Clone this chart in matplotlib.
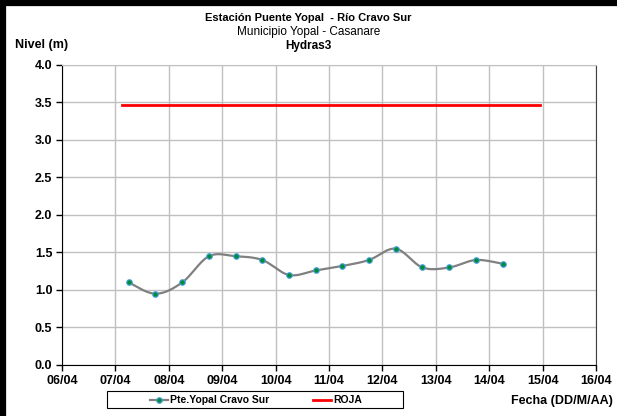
import numpy as np
import matplotlib
matplotlib.use("Agg")
import matplotlib.pyplot as plt
from matplotlib.lines import Line2D
from matplotlib.patches import Rectangle

plt.rcParams['font.family'] = ['Liberation Sans', 'DejaVu Sans']

# Data: days since 06/04 (twice daily readings at 06:00 and 18:00)
day_offsets = [1.25, 1.75, 2.25, 2.75, 3.25, 3.75, 4.25, 4.75, 5.25, 5.75,
               6.25, 6.75, 7.25, 7.75, 8.25]
nivel = [1.10, 0.95, 1.10, 1.45, 1.45, 1.40, 1.20, 1.26, 1.32, 1.40,
         1.55, 1.30, 1.30, 1.40, 1.35]
roja_x = [1.12, 8.95]
roja_y = [3.47, 3.47]
xtick_labels = ['06/04', '07/04', '08/04', '09/04', '10/04', '11/04',
                '12/04', '13/04', '14/04', '15/04', '16/04']
yticks = [0.0, 0.5, 1.0, 1.5, 2.0, 2.5, 3.0, 3.5, 4.0]


def smooth(x, y, n=20):
    x = np.asarray(x, float); y = np.asarray(y, float)
    P = np.column_stack([x, y])
    out = [P[0]]
    for i in range(len(P) - 1):
        p0 = P[i - 1] if i > 0 else P[i]
        p1 = P[i]; p2 = P[i + 1]
        p3 = P[i + 2] if i + 2 < len(P) else P[i + 1]
        c1 = p1 + (p2 - p0) / 6.0
        c2 = p2 - (p3 - p1) / 6.0
        t = np.linspace(0, 1, n)[1:, None]
        seg = ((1 - t) ** 3) * p1 + 3 * ((1 - t) ** 2) * t * c1 + 3 * (1 - t) * t ** 2 * c2 + t ** 3 * p2
        out.extend(seg)
    out = np.array(out)
    return out[:, 0], out[:, 1]


MFACE = '#008a3c'
MEDGE = '#4aa0e0'

fig = plt.figure(figsize=(6.17, 4.16), dpi=100, facecolor='white')
fig.patch.set_edgecolor('white')
fig.patch.set_linewidth(0)
ax = fig.add_axes([0.1005, 0.1226, 0.8655, 0.7212])
ax.set_facecolor('white')

ax.set_xlim(0, 10)
ax.set_ylim(0, 4)
ax.set_xticks(range(11))
ax.set_xticklabels(xtick_labels, fontweight='bold', fontsize=9)
ax.set_yticks(yticks)
ax.set_yticklabels([f'{v:.1f}' for v in yticks], fontweight='bold', fontsize=9)
ax.grid(True, color='#c0c0c0', linewidth=1.0)
ax.set_axisbelow(True)
ax.tick_params(axis='both', direction='out', length=4, width=1, color='black', pad=3)
ax.spines['left'].set_color('black')
ax.spines['bottom'].set_color('black')
ax.spines['top'].set_color('#c0c0c0')
ax.spines['right'].set_color('#404040')

sx, sy = smooth(day_offsets, nivel)
ax.plot(sx, sy, color='#808080', linewidth=1.6, zorder=3)
ax.plot(day_offsets, nivel, linestyle='none', marker='o', markersize=4,
        markerfacecolor=MFACE, markeredgecolor=MEDGE, markeredgewidth=0.8, zorder=4)
ax.plot(roja_x, roja_y, color='#ff0000', linewidth=2.0, zorder=3)

# Titles
fig.text(0.5, 1 - 18 / 416, 'Estación Puente Yopal  - Río Cravo Sur', ha='center', va='center',
         fontsize=8, fontweight='bold')
fig.text(0.5, 1 - 32 / 416, 'Municipio Yopal - Casanare', ha='center', va='center', fontsize=8.5)
fig.text(0.5, 1 - 46 / 416, 'Hydras3', ha='center', va='center', fontsize=8.5, fontweight='bold')
fig.text(15 / 617, 1 - 45 / 416, 'Nivel (m)', ha='left', va='center', fontsize=9, fontweight='bold')
fig.text(613 / 617, 1 - 401 / 416, 'Fecha (DD/M/AA)', ha='right', va='center', fontsize=9, fontweight='bold')

# Legend box
fig.patches.append(Rectangle((107 / 617, 1 - 408 / 416), (403 - 107) / 617, 17 / 416,
                             transform=fig.transFigure, facecolor='white', edgecolor='black',
                             linewidth=0.8))
ly = 1 - 400 / 416
fig.lines.append(Line2D([150 / 617, 168 / 617], [ly, ly], transform=fig.transFigure,
                        color='#808080', linewidth=1.6))
fig.lines.append(Line2D([159 / 617], [ly], transform=fig.transFigure, marker='o', markersize=4,
                        markerfacecolor=MFACE, markeredgecolor=MEDGE, markeredgewidth=0.8))
fig.text(170 / 617, ly, 'Pte.Yopal Cravo Sur', ha='left', va='center', fontsize=7.5, fontweight='bold')
fig.lines.append(Line2D([313 / 617, 331 / 617], [ly, ly], transform=fig.transFigure,
                        color='#ff0000', linewidth=2.0))
fig.text(333 / 617, ly, 'ROJA', ha='left', va='center', fontsize=7.5, fontweight='bold')

# Thick outer border (top and left visible)
fig.lines.append(Line2D([3 / 617, 3 / 617], [0, 1 - 2 / 416], transform=fig.transFigure,
                        color='black', linewidth=4.5, solid_capstyle='butt'))
fig.lines.append(Line2D([0, 1], [1 - 3 / 416, 1 - 3 / 416], transform=fig.transFigure,
                        color='black', linewidth=4.5, solid_capstyle='butt'))

fig.savefig('out.png', dpi=100, facecolor='white', edgecolor='white')
